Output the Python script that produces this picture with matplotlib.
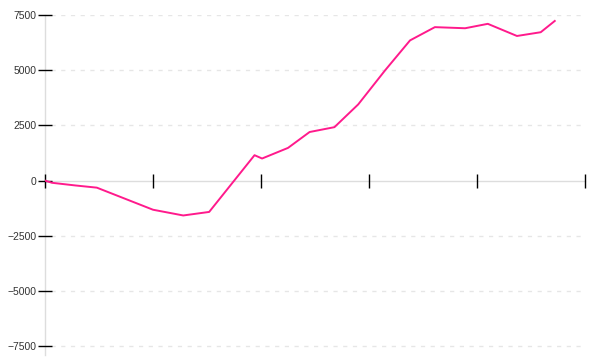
import matplotlib
matplotlib.use("Agg")
import matplotlib.pyplot as plt

# data (x in tick units 0..5, y values)
x_vals = [0.0, 0.065, 0.28, 0.48, 1.0, 1.28, 1.52, 1.94, 2.01, 2.25, 2.45, 2.68, 2.90, 3.15, 3.38, 3.61, 3.89, 4.10, 4.37, 4.59, 4.72]
y_vals = [0, -100, -220, -320, -1320, -1580, -1420, 1150, 1000, 1480, 2200, 2420, 3450, 5000, 6350, 6950, 6900, 7100, 6550, 6720, 7230]
y_ticks = [-7500, -5000, -2500, 0, 2500, 5000, 7500]
y_labels = ["\u22127500", "\u22125000", "\u22122500", "0", "2500", "5000", "7500"]
x_ticks = [0, 1, 2, 3, 4, 5]

fig = plt.figure(figsize=(6, 3.6), dpi=100)
ax = fig.add_axes([45/600, 5/360, 540/600, 340/360])
ax.plot(x_vals, y_vals, color="#ff1a8c", linewidth=1.4, zorder=3)

ax.set_xlim(0, 5)
ax.set_ylim(-7900, 7500)
ax.set_yticks(y_ticks)
ax.set_yticklabels(y_labels, family="Liberation Sans")
ax.set_xticks(x_ticks)
ax.set_xticklabels([])

for s in ["top", "right"]:
    ax.spines[s].set_visible(False)
ax.spines["bottom"].set_position(("data", 0))
for s in ["bottom", "left"]:
    ax.spines[s].set_color("#dddddd")
    ax.spines[s].set_linewidth(1.0)
    ax.spines[s].set_zorder(0.5)

ax.tick_params(axis="x", direction="inout", length=10, width=1, color="black")
ax.tick_params(axis="y", direction="inout", length=10, width=1, color="black",
               labelsize=7.5, labelcolor="#333333", pad=1)

for v in y_ticks:
    if v != 0:
        ax.axhline(v, color="#e6e6e6", linewidth=1, linestyle=(0, (3, 4)), zorder=1,
                   xmin=6/540, xmax=1)

fig.savefig("out.png", dpi=100)
